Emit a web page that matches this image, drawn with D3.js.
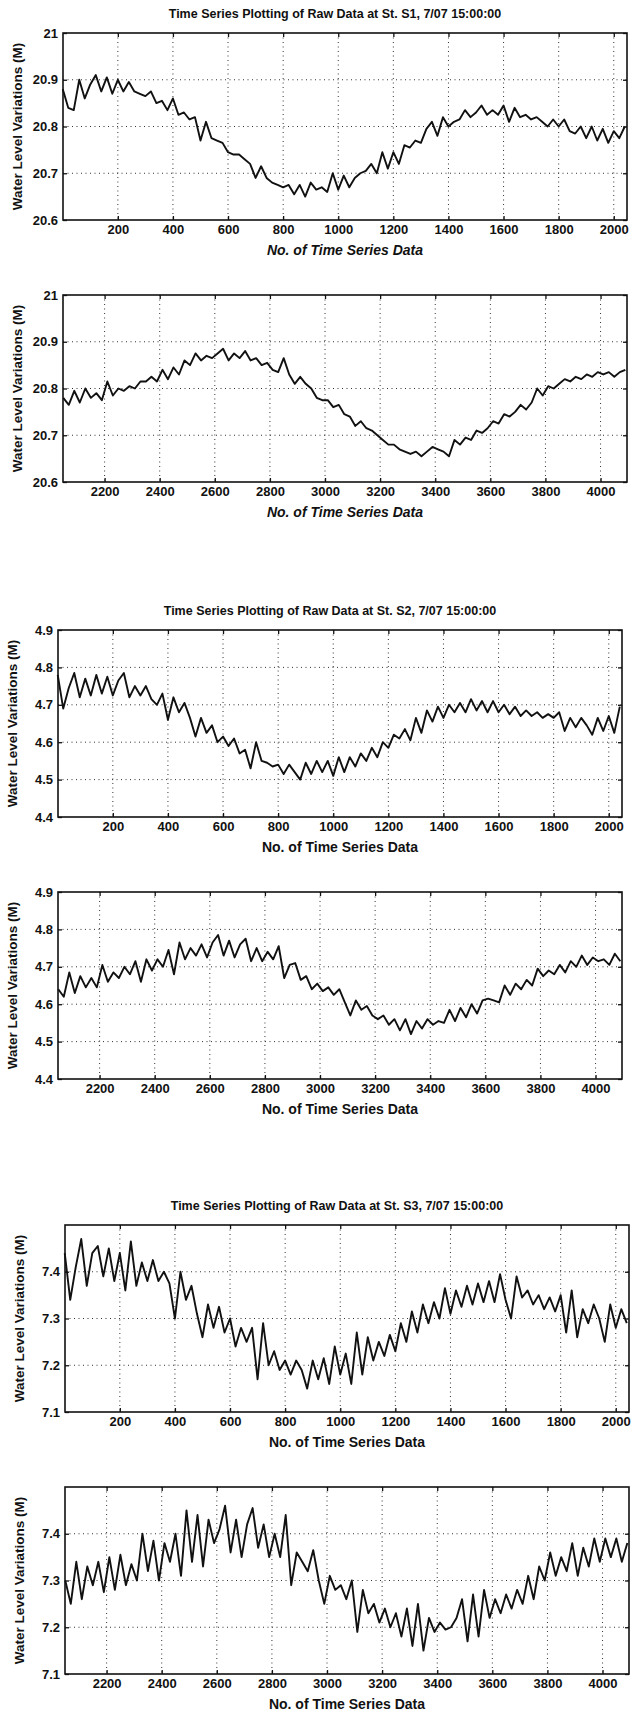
<!DOCTYPE html>
<html>
<head>
<meta charset="utf-8">
<script src="https://cdn.jsdelivr.net/npm/d3@7"></script>
<style>
  body { margin: 0; background: #fff; }
  svg { display: block; }
  .tick text { font-family: "Liberation Sans", Arial, sans-serif; font-weight: bold; font-size: 13px; fill: #111; }
  .grid line { stroke: #333; stroke-dasharray: 1,3.5; stroke-width: 1; }
  .lbl { font-family: "Liberation Sans", Arial, sans-serif; font-weight: bold; fill: #111; }
</style>
</head>
<body>
<div id="chart"></div>
<script>
// values, one sample every 20 points
var step = 20;

var s1a = [20.88,20.84,20.835,20.90,20.86,20.89,20.91,20.875,20.905,20.87,20.90,20.875,20.895,20.875,20.87,20.865,20.875,20.85,20.855,20.835,
  20.86,20.825,20.83,20.815,20.82,20.77,20.81,20.775,20.77,20.765,20.745,20.74,20.74,20.73,20.72,20.69,20.715,20.69,20.68,20.675,
  20.67,20.675,20.655,20.675,20.65,20.68,20.665,20.67,20.66,20.70,20.665,20.695,20.67,20.69,20.70,20.705,20.72,20.70,20.745,20.71,
  20.745,20.72,20.76,20.755,20.77,20.765,20.795,20.81,20.78,20.82,20.80,20.81,20.815,20.835,20.82,20.83,20.845,20.825,20.835,20.825,
  20.845,20.81,20.84,20.82,20.825,20.815,20.82,20.81,20.80,20.815,20.80,20.815,20.79,20.785,20.80,20.775,20.80,20.77,20.795,20.765,
  20.79,20.775,20.80];
var s1b = [20.78,20.765,20.795,20.77,20.80,20.78,20.79,20.775,20.815,20.785,20.80,20.795,20.805,20.80,20.815,20.815,20.825,20.815,20.84,20.82,
  20.845,20.83,20.86,20.85,20.875,20.86,20.87,20.865,20.875,20.885,20.86,20.875,20.865,20.88,20.86,20.865,20.85,20.855,20.84,20.835,
  20.865,20.83,20.81,20.825,20.81,20.80,20.78,20.775,20.775,20.76,20.765,20.745,20.74,20.72,20.73,20.715,20.71,20.70,20.69,20.68,
  20.68,20.67,20.665,20.66,20.665,20.655,20.665,20.675,20.67,20.665,20.655,20.69,20.68,20.695,20.69,20.71,20.705,20.715,20.73,20.725,
  20.745,20.74,20.75,20.765,20.755,20.77,20.80,20.785,20.805,20.80,20.81,20.82,20.815,20.825,20.82,20.83,20.825,20.835,20.83,20.835,
  20.825,20.835,20.84];
var s2a = [4.78,4.69,4.745,4.785,4.72,4.77,4.725,4.78,4.73,4.775,4.725,4.765,4.785,4.72,4.75,4.725,4.75,4.715,4.70,4.73,
  4.66,4.72,4.68,4.705,4.665,4.615,4.665,4.625,4.645,4.60,4.615,4.59,4.61,4.57,4.58,4.53,4.60,4.55,4.545,4.535,
  4.54,4.515,4.54,4.52,4.50,4.545,4.515,4.55,4.52,4.55,4.51,4.56,4.52,4.56,4.535,4.57,4.55,4.585,4.56,4.60,
  4.585,4.62,4.61,4.635,4.605,4.665,4.625,4.685,4.655,4.695,4.665,4.70,4.68,4.705,4.68,4.715,4.685,4.71,4.68,4.71,
  4.68,4.70,4.675,4.695,4.67,4.685,4.67,4.68,4.665,4.675,4.665,4.68,4.63,4.665,4.64,4.665,4.645,4.62,4.665,4.63,
  4.67,4.625,4.695];
var s2b = [4.64,4.62,4.685,4.63,4.675,4.645,4.67,4.645,4.705,4.66,4.685,4.67,4.70,4.68,4.715,4.66,4.72,4.69,4.72,4.70,
  4.745,4.68,4.765,4.72,4.75,4.73,4.76,4.725,4.765,4.785,4.73,4.77,4.725,4.76,4.775,4.715,4.75,4.715,4.74,4.72,
  4.755,4.67,4.705,4.71,4.665,4.675,4.64,4.655,4.635,4.645,4.625,4.64,4.605,4.57,4.61,4.585,4.595,4.57,4.56,4.57,
  4.545,4.56,4.53,4.56,4.52,4.555,4.535,4.56,4.545,4.555,4.55,4.585,4.555,4.59,4.565,4.60,4.575,4.61,4.615,4.61,
  4.605,4.65,4.625,4.655,4.64,4.665,4.65,4.695,4.675,4.69,4.68,4.705,4.685,4.715,4.70,4.73,4.705,4.725,4.715,4.72,
  4.705,4.735,4.715];
var s3a = [7.44,7.34,7.41,7.47,7.37,7.44,7.455,7.39,7.45,7.38,7.44,7.36,7.465,7.37,7.42,7.38,7.425,7.38,7.40,7.375,
  7.30,7.40,7.34,7.37,7.31,7.26,7.33,7.28,7.325,7.27,7.30,7.24,7.28,7.25,7.28,7.17,7.29,7.20,7.23,7.19,
  7.21,7.18,7.21,7.19,7.15,7.21,7.17,7.215,7.16,7.24,7.18,7.225,7.16,7.27,7.18,7.26,7.21,7.25,7.22,7.265,
  7.23,7.29,7.25,7.315,7.27,7.33,7.29,7.335,7.30,7.365,7.31,7.36,7.325,7.37,7.33,7.375,7.335,7.38,7.335,7.395,
  7.34,7.30,7.39,7.345,7.36,7.33,7.35,7.32,7.345,7.315,7.35,7.27,7.36,7.26,7.32,7.29,7.33,7.30,7.25,7.33,
  7.28,7.32,7.29];
var s3b = [7.30,7.25,7.34,7.26,7.33,7.29,7.34,7.275,7.35,7.28,7.355,7.29,7.335,7.30,7.40,7.32,7.385,7.30,7.38,7.34,
  7.40,7.31,7.45,7.34,7.44,7.33,7.43,7.38,7.41,7.46,7.36,7.43,7.35,7.42,7.455,7.37,7.42,7.35,7.40,7.35,
  7.44,7.29,7.36,7.34,7.32,7.365,7.30,7.25,7.31,7.28,7.29,7.26,7.30,7.19,7.28,7.23,7.25,7.21,7.24,7.20,
  7.23,7.18,7.24,7.16,7.25,7.15,7.22,7.19,7.21,7.195,7.20,7.22,7.26,7.17,7.27,7.18,7.28,7.22,7.26,7.23,
  7.27,7.24,7.28,7.25,7.31,7.26,7.33,7.30,7.36,7.31,7.35,7.32,7.38,7.31,7.37,7.33,7.39,7.34,7.39,7.35,
  7.39,7.34,7.38];

var xTicksA = [200,400,600,800,1000,1200,1400,1600,1800,2000];
var xTicksB = [2200,2400,2600,2800,3000,3200,3400,3600,3800,4000];
var yTicksS1 = [20.6,20.7,20.8,20.9,21];
var yTicksS2 = [4.4,4.5,4.6,4.7,4.8,4.9];
var yTicksS3 = [7.1,7.2,7.3,7.4];

var titles = ["Time Series Plotting of Raw Data at St. S1, 7/07 15:00:00", null,
  "Time Series Plotting of Raw Data at St. S2, 7/07 15:00:00", null,
  "Time Series Plotting of Raw Data at St. S3, 7/07 15:00:00", null];

// same subplot layout for the three figures, each scanned a bit offset
var figs = [{l: 63, r: 627, t: 33}, {l: 58, r: 622, t: 630}, {l: 65, r: 629, t: 1225}];
var plotH = 187, gapTop = 262;

var panels = [
  {vals: s1a, x0: 0, xd: [1, 2048], yd: [20.6, 21], xt: xTicksA, yt: yTicksS1, fmt: d3.format("~g")},
  {vals: s1b, x0: 2050, xd: [2049, 4096], yd: [20.6, 21], xt: xTicksB, yt: yTicksS1, fmt: d3.format("~g")},
  {vals: s2a, x0: 0, xd: [1, 2048], yd: [4.4, 4.9], xt: xTicksA, yt: yTicksS2, fmt: d3.format(".1f")},
  {vals: s2b, x0: 2050, xd: [2049, 4096], yd: [4.4, 4.9], xt: xTicksB, yt: yTicksS2, fmt: d3.format(".1f")},
  {vals: s3a, x0: 0, xd: [1, 2048], yd: [7.1, 7.5], xt: xTicksA, yt: yTicksS3, fmt: d3.format(".1f")},
  {vals: s3b, x0: 2050, xd: [2049, 4096], yd: [7.1, 7.5], xt: xTicksB, yt: yTicksS3, fmt: d3.format(".1f")}
];

var svg = d3.select("#chart").append("svg")
    .attr("width", 641)
    .attr("height", 1717);

panels.forEach(function(p, i) {
  var f = figs[Math.floor(i / 2)];
  var left = f.l, top = f.t + (i % 2) * gapTop;
  var w = f.r - f.l, h = plotH;
  var x = d3.scaleLinear().domain(p.xd).range([0, w]);
  var y = d3.scaleLinear().domain(p.yd).range([h, 0]);

  var g = svg.append("g").attr("transform", "translate(" + left + "," + top + ")");

  // dotted grid
  g.append("g").attr("class", "grid")
    .selectAll("line").data(p.xt).enter().append("line")
    .attr("x1", function(d) { return x(d); }).attr("x2", function(d) { return x(d); })
    .attr("y1", 0).attr("y2", h);
  g.append("g").attr("class", "grid")
    .selectAll("line").data(p.yt.filter(function(d) { return d > p.yd[0] && d < p.yd[1]; })).enter().append("line")
    .attr("y1", function(d) { return y(d); }).attr("y2", function(d) { return y(d); })
    .attr("x1", 0).attr("x2", w);

  // the series
  var line = d3.line()
    .x(function(d, j) { return x(p.x0 + j * step); })
    .y(function(d) { return y(d); });
  g.append("path")
    .datum(p.vals)
    .attr("d", line)
    .attr("fill", "none")
    .attr("stroke", "#111")
    .attr("stroke-width", 1.9)
    .attr("stroke-linejoin", "round");

  // axes, ticks pointing inward like matlab
  g.append("g").attr("transform", "translate(0," + h + ")")
    .call(d3.axisBottom(x).tickValues(p.xt).tickSizeInner(-4).tickSizeOuter(0).tickPadding(5).tickFormat(d3.format("d")));
  g.append("g")
    .call(d3.axisLeft(y).tickValues(p.yt).tickSizeInner(-4).tickSizeOuter(0).tickPadding(5).tickFormat(p.fmt));
  g.append("g")
    .call(d3.axisTop(x).tickValues(p.xt).tickSizeInner(-4).tickSizeOuter(0).tickFormat(""));
  g.append("g").attr("transform", "translate(" + w + ",0)")
    .call(d3.axisRight(y).tickValues(p.yt).tickSizeInner(-4).tickSizeOuter(0).tickFormat(""));
  g.selectAll(".domain").remove();
  g.selectAll(".tick line").attr("stroke", "#111").attr("stroke-width", 1.3);

  g.append("rect")
    .attr("width", w).attr("height", h)
    .attr("fill", "none").attr("stroke", "#111").attr("stroke-width", 1.6);

  // labels
  if (titles[i]) {
    g.append("text").attr("class", "lbl")
      .attr("x", w / 2 - 10).attr("y", -15)
      .attr("text-anchor", "middle").style("font-size", "12.5px")
      .text(titles[i]);
  }
  g.append("text").attr("class", "lbl")
    .attr("x", w / 2).attr("y", h + 35)
    .attr("text-anchor", "middle").style("font-size", "14px")
    .style("font-style", i < 2 ? "italic" : "normal")
    .text("No. of Time Series Data");
  g.append("text").attr("class", "lbl")
    .attr("transform", "translate(-41," + (h / 2) + ") rotate(-90)")
    .attr("text-anchor", "middle").style("font-size", "13.5px")
    .text("Water Level Variations (M)");
});
</script>
</body>
</html>
